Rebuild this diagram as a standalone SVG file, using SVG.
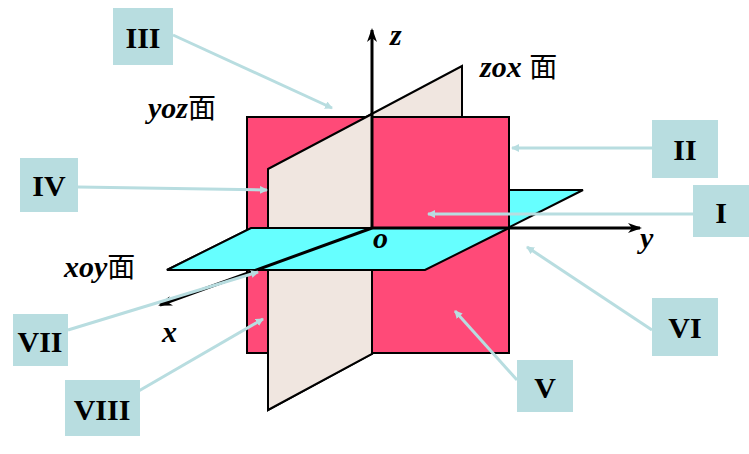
<svg xmlns="http://www.w3.org/2000/svg" width="749" height="454" viewBox="0 0 749 454">
<style>
.pl{stroke:#000;stroke-width:2;stroke-linejoin:miter}
.ax{stroke:#000;stroke-width:3;fill:none}
.lb{font-family:"Liberation Serif","Noto Sans CJK SC",serif;font-size:30px;font-weight:bold;font-style:italic}
.cj{font-family:"Noto Sans CJK SC",serif;font-size:28px;font-style:normal;font-weight:normal}
.bx{fill:#b8dde0}
.bt{font-family:"Liberation Serif",serif;font-size:30px;font-weight:bold;text-anchor:middle}
.co{stroke:#b8dde0;stroke-width:3;fill:none;marker-end:url(#ah)}
</style>
<defs>
<marker id="ah" markerWidth="8" markerHeight="8" refX="7" refY="4" orient="auto" markerUnits="userSpaceOnUse"><path d="M0,0L8,4L0,8z" fill="#b8dde0"/></marker>
<marker id="ax" markerWidth="14" markerHeight="10" refX="12" refY="5" orient="auto" markerUnits="userSpaceOnUse"><path d="M0,0L14,5L0,10L4,5z" fill="#000"/></marker>
</defs>
<g id="planes">
<polygon class="pl" fill="#f0e6e0" points="268,169 462,66 462,305 268,410"/>
<polygon class="pl" fill="#66ffff" points="167,270 425,270 583,190 327,190"/>
<rect class="pl" fill="#ff4a78" x="247" y="117" width="262" height="236"/>
<polygon class="pl" fill="#f0e6e0" points="268,169 372,114 372,354 268,410"/>
<polygon class="pl" fill="#66ffff" points="167,270 425,270 509,228 251,228"/>
</g>
<g id="axes">
<line class="ax" x1="372" y1="228" x2="372" y2="30" marker-end="url(#ax)"/>
<line class="ax" x1="372" y1="228" x2="640" y2="228" marker-end="url(#ax)"/>
<line class="ax" x1="372" y1="228" x2="160" y2="305" marker-end="url(#ax)"/>
</g>
<g id="labels">
<text class="lb" x="390" y="45">z</text>
<text class="lb" x="480" y="77">zox <tspan class="cj">面</tspan></text>
<text class="lb" x="148" y="118">yoz<tspan class="cj">面</tspan></text>
<text class="lb" x="64" y="277">xoy<tspan class="cj">面</tspan></text>
<text class="lb" x="373" y="248">o</text>
<text class="lb" x="640" y="248">y</text>
<text class="lb" x="162" y="342">x</text>
</g>
<g id="connectors">
<line class="co" x1="173" y1="35" x2="332" y2="108"/>
<line class="co" x1="652" y1="148" x2="512" y2="148"/>
<line class="co" x1="78" y1="187" x2="267" y2="190"/>
<line class="co" x1="693" y1="214" x2="428" y2="214"/>
<line class="co" x1="652" y1="330" x2="527" y2="247"/>
<line class="co" x1="68" y1="330" x2="258" y2="272"/>
<line class="co" x1="130" y1="396" x2="263" y2="319"/>
<line class="co" x1="517" y1="380" x2="455" y2="311"/>
</g>
<g id="III"><rect class="bx" x="113" y="8" width="60" height="57"/><text class="bt" x="143" y="48">III</text></g>
<g id="II"><rect class="bx" x="652" y="120" width="66" height="58"/><text class="bt" x="685" y="160">II</text></g>
<g id="IV"><rect class="bx" x="20" y="158" width="58" height="54"/><text class="bt" x="49" y="196">IV</text></g>
<g id="I"><rect class="bx" x="693" y="185" width="56" height="52"/><text class="bt" x="721" y="223">I</text></g>
<g id="VI"><rect class="bx" x="652" y="298" width="66" height="58"/><text class="bt" x="685" y="338">VI</text></g>
<g id="VII"><rect class="bx" x="13" y="314" width="55" height="52"/><text class="bt" x="40" y="352">VII</text></g>
<g id="VIII"><rect class="bx" x="65" y="380" width="75" height="56"/><text class="bt" x="102" y="420">VIII</text></g>
<g id="V"><rect class="bx" x="517" y="360" width="56" height="52"/><text class="bt" x="545" y="398">V</text></g>
</svg>
